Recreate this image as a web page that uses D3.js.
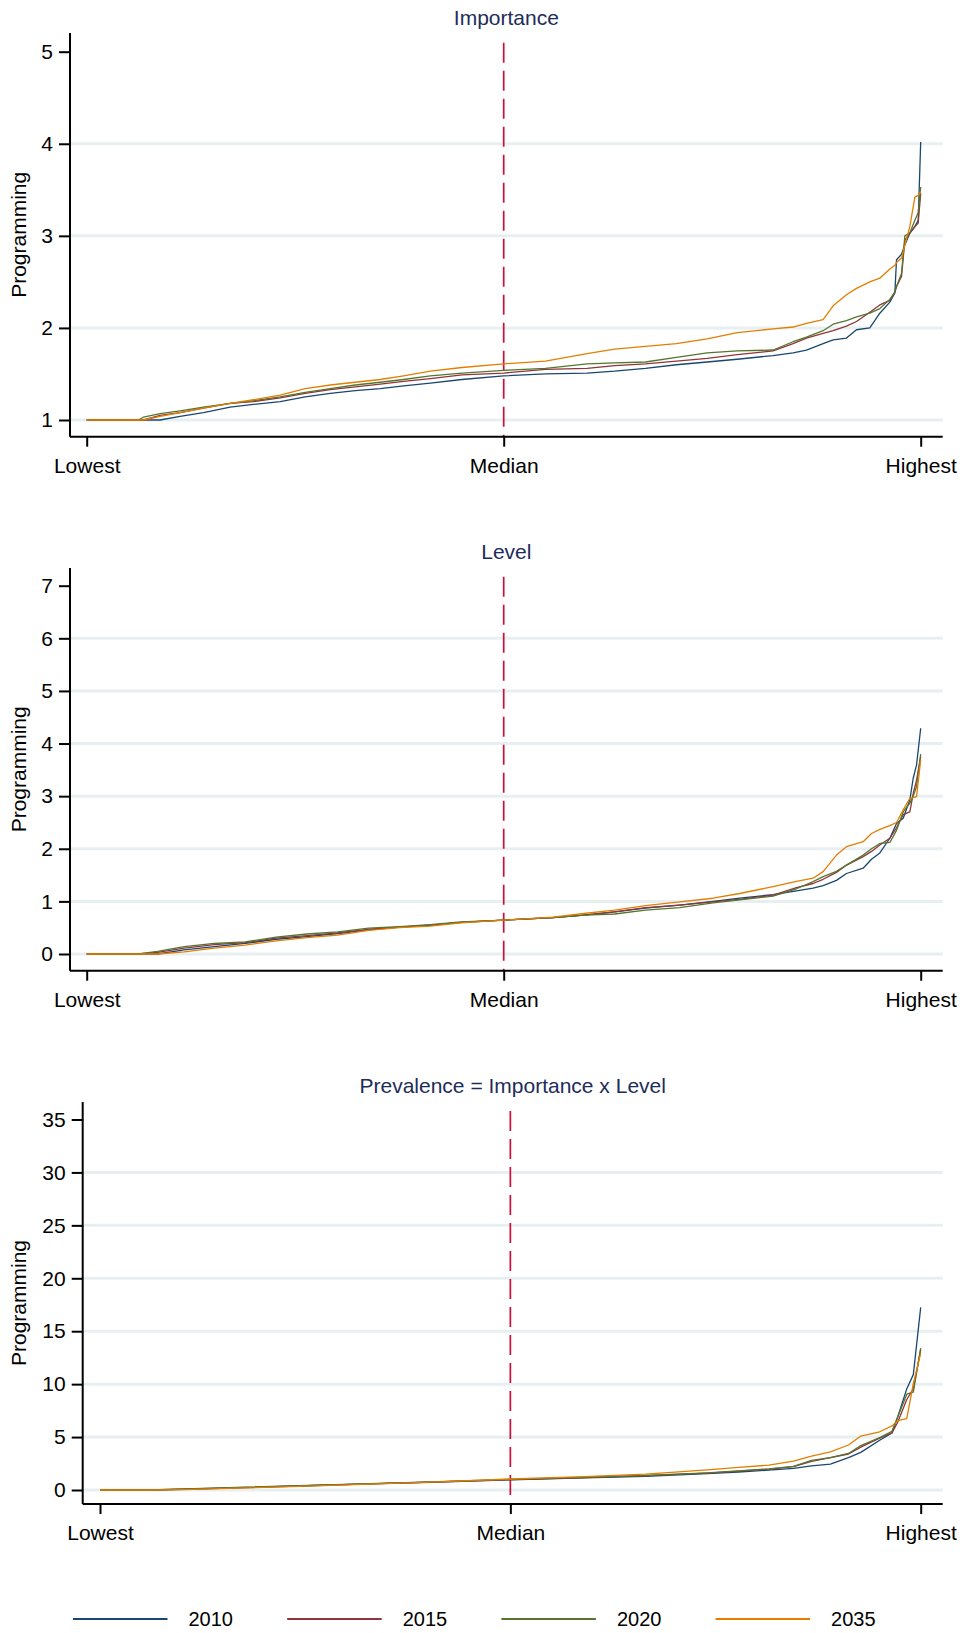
<!DOCTYPE html>
<html>
<head>
<meta charset="utf-8">
<script src="https://cdn.jsdelivr.net/npm/d3@7/dist/d3.min.js"></script>
<style>
  body { margin: 0; background: #fff; }
  svg { display: block; }
  text { font-family: "Liberation Sans", Arial, Helvetica, sans-serif; }
</style>
</head>
<body>
<script>
// ---- data -------------------------------------------------------------
const years = ["2010", "2015", "2020", "2035"];
const yearColors = ["#1a476f", "#90353b", "#55752f", "#e37e00"];
const xTickValues = [0, 0.5, 1];
const xTickLabels = ["Lowest", "Median", "Highest"];
const axisTitle = "Programming";

// Importance: rank position (0 = lowest, 1 = highest) and sorted scores
const importanceRank = [0, 0.062, 0.068, 0.088, 0.112, 0.14, 0.172, 0.2, 0.232, 0.262, 0.292, 0.322, 0.352, 0.38, 0.412, 0.45, 0.5, 0.55, 0.6, 0.633, 0.67, 0.707, 0.744, 0.78, 0.823, 0.847, 0.863, 0.883, 0.895, 0.911, 0.923, 0.939, 0.951, 0.963, 0.969, 0.971, 0.977, 0.981, 0.987, 0.993, 0.997, 1];
const importance2010 = [1, 1, 1, 1, 1.04, 1.08, 1.14, 1.17, 1.2, 1.25, 1.29, 1.32, 1.34, 1.37, 1.4, 1.44, 1.48, 1.5, 1.51, 1.53, 1.56, 1.6, 1.63, 1.66, 1.7, 1.73, 1.76, 1.83, 1.87, 1.89, 1.98, 2, 2.16, 2.28, 2.38, 2.74, 2.8, 2.9, 3.03, 3.1, 3.17, 4.02];
const importance2015 = [1, 1, 1, 1.05, 1.08, 1.13, 1.18, 1.2, 1.24, 1.29, 1.33, 1.36, 1.39, 1.42, 1.45, 1.49, 1.51, 1.55, 1.56, 1.59, 1.61, 1.64, 1.67, 1.71, 1.75, 1.83, 1.89, 1.94, 1.97, 2.02, 2.07, 2.17, 2.25, 2.3, 2.39, 2.45, 2.56, 2.95, 3.03, 3.1, 3.14, 3.46];
const importance2020 = [1, 1, 1.03, 1.07, 1.1, 1.14, 1.18, 1.21, 1.25, 1.3, 1.34, 1.38, 1.41, 1.44, 1.48, 1.51, 1.54, 1.56, 1.61, 1.62, 1.63, 1.68, 1.73, 1.75, 1.76, 1.85, 1.9, 1.97, 2.04, 2.08, 2.12, 2.16, 2.21, 2.31, 2.39, 2.45, 2.59, 3, 3.03, 3.17, 3.25, 3.53];
const importance2035 = [1, 1, 1, 1.04, 1.08, 1.13, 1.18, 1.22, 1.27, 1.34, 1.38, 1.41, 1.44, 1.48, 1.53, 1.57, 1.61, 1.64, 1.72, 1.77, 1.8, 1.83, 1.88, 1.95, 1.99, 2.01, 2.05, 2.09, 2.24, 2.36, 2.43, 2.5, 2.54, 2.64, 2.68, 2.71, 2.76, 2.9, 3.1, 3.42, 3.44, 3.48];

// Level
const levelRank = [0, 0.062, 0.085, 0.117, 0.153, 0.19, 0.227, 0.264, 0.301, 0.338, 0.375, 0.412, 0.449, 0.5, 0.559, 0.596, 0.633, 0.67, 0.711, 0.751, 0.783, 0.823, 0.851, 0.871, 0.883, 0.899, 0.911, 0.931, 0.941, 0.951, 0.963, 0.971, 0.979, 0.987, 0.991, 0.995, 1];
const level2010 = [0, 0, 0, 0.08, 0.14, 0.2, 0.28, 0.33, 0.39, 0.46, 0.51, 0.55, 0.6, 0.645, 0.69, 0.74, 0.8, 0.87, 0.93, 1, 1.06, 1.13, 1.2, 1.25, 1.3, 1.4, 1.53, 1.63, 1.8, 1.92, 2.2, 2.48, 2.58, 2.93, 3.34, 3.59, 4.29];
const level2015 = [0, 0, 0.03, 0.11, 0.18, 0.215, 0.3, 0.35, 0.4, 0.47, 0.51, 0.55, 0.6, 0.645, 0.69, 0.74, 0.8, 0.88, 0.93, 0.99, 1.04, 1.12, 1.26, 1.34, 1.42, 1.55, 1.69, 1.85, 1.95, 2.07, 2.2, 2.4, 2.65, 2.7, 3.05, 3.3, 3.75];
const level2020 = [0, 0, 0.05, 0.14, 0.2, 0.23, 0.32, 0.38, 0.42, 0.49, 0.52, 0.56, 0.61, 0.645, 0.69, 0.74, 0.76, 0.835, 0.88, 0.97, 1.03, 1.1, 1.24, 1.375, 1.47, 1.57, 1.69, 1.88, 2, 2.1, 2.12, 2.35, 2.7, 2.87, 3, 3.18, 3.8];
const level2035 = [0, 0, 0, 0.04, 0.11, 0.17, 0.25, 0.31, 0.36, 0.45, 0.5, 0.53, 0.59, 0.645, 0.7, 0.77, 0.835, 0.92, 0.99, 1.06, 1.15, 1.28, 1.38, 1.44, 1.565, 1.88, 2.04, 2.135, 2.29, 2.37, 2.44, 2.5, 2.74, 2.96, 2.97, 2.99, 3.69];

// Prevalence = Importance x Level
const prevalenceRank = [0, 0.06, 0.103, 0.178, 0.253, 0.328, 0.403, 0.5, 0.59, 0.665, 0.74, 0.778, 0.815, 0.845, 0.867, 0.89, 0.912, 0.927, 0.95, 0.965, 0.972, 0.983, 0.991, 1];
const prevalence2010 = [0, 0, 0.06, 0.22, 0.4, 0.57, 0.73, 0.96, 1.15, 1.3, 1.55, 1.7, 1.88, 2.05, 2.28, 2.45, 3.05, 3.55, 4.7, 5.4, 6.9, 9.55, 10.9, 17.25];
const prevalence2015 = [0, 0, 0.08, 0.25, 0.41, 0.58, 0.75, 0.98, 1.18, 1.35, 1.6, 1.78, 1.97, 2.2, 2.7, 3.05, 3.4, 4.05, 4.9, 5.4, 6.4, 8.55, 9.55, 13.25];
const prevalence2020 = [0, 0, 0.1, 0.27, 0.43, 0.6, 0.77, 1, 1.2, 1.37, 1.62, 1.8, 2, 2.23, 2.8, 3.05, 3.45, 4.2, 4.95, 5.55, 6.9, 9.05, 9.25, 13.4];
const prevalence2035 = [0, 0, 0.04, 0.2, 0.37, 0.56, 0.74, 1.04, 1.27, 1.5, 1.9, 2.13, 2.35, 2.73, 3.2, 3.6, 4.25, 5.1, 5.5, 6.05, 6.55, 6.75, 10.05, 12.9];

const importanceTicks = [1, 2, 3, 4, 5];
const levelTicks = [0, 1, 2, 3, 4, 5, 6, 7];
const prevalenceTicks = [0, 5, 10, 15, 20, 25, 30, 35];

// ---- layout -------------------------------------------------------------
const W = 964, H = 1633;
const panels = [
  { title: "Importance", ticks: importanceTicks, rank: importanceRank,
    series: [importance2010, importance2015, importance2020, importance2035],
    axisX: 70, xLeft: 86.7, xRight: 920.7, axisRight: 942.7,
    axisTop: 33, axisBottom: 436.7, lowPx: 420, highPx: 51.7, titleY: 25, medianTop: 42.7 },
  { title: "Level", ticks: levelTicks, rank: levelRank,
    series: [level2010, level2015, level2020, level2035],
    axisX: 70, xLeft: 86.7, xRight: 920.7, axisRight: 942.7,
    axisTop: 568, axisBottom: 970.7, lowPx: 954, highPx: 585.7, titleY: 559, medianTop: 576.7 },
  { title: "Prevalence = Importance x Level", ticks: prevalenceTicks, rank: prevalenceRank,
    series: [prevalence2010, prevalence2015, prevalence2020, prevalence2035],
    axisX: 82.7, xLeft: 100, xRight: 920.7, axisRight: 942.7,
    axisTop: 1102, axisBottom: 1504, lowPx: 1490, highPx: 1119.5, titleY: 1093, medianTop: 1111 }
];

const svg = d3.select("body").append("svg")
  .attr("width", W).attr("height", H)
  .attr("viewBox", `0 0 ${W} ${H}`);

svg.append("rect").attr("width", W).attr("height", H).attr("fill", "#fff");

panels.forEach(p => {
  const g = svg.append("g");
  const x = d3.scaleLinear().domain([0, 1]).range([p.xLeft, p.xRight]);
  const y = d3.scaleLinear()
    .domain([p.ticks[0], p.ticks[p.ticks.length - 1]])
    .range([p.lowPx, p.highPx]);

  // horizontal gridlines (none on the top tick)
  g.selectAll("line.grid").data(p.ticks.slice(0, -1)).join("line")
    .attr("class", "grid")
    .attr("x1", p.axisX).attr("x2", p.axisRight)
    .attr("y1", d => y(d)).attr("y2", d => y(d))
    .attr("stroke", "#e8eff1").attr("stroke-width", 3);

  // median reference line
  g.append("line")
    .attr("x1", x(0.5)).attr("x2", x(0.5))
    .attr("y1", p.medianTop).attr("y2", p.axisBottom)
    .attr("stroke", "#c8103a").attr("stroke-width", 1.7)
    .attr("stroke-dasharray", "20,8");

  // series lines
  const line = d3.line()
    .x((d, i) => x(p.rank[i]))
    .y(d => y(d));
  p.series.forEach((s, k) => {
    g.append("path")
      .datum(s)
      .attr("d", line)
      .attr("fill", "none")
      .attr("stroke", yearColors[k])
      .attr("stroke-width", 1.3)
      .attr("stroke-linejoin", "round");
  });

  // y axis
  const yAxis = d3.axisLeft(y).tickValues(p.ticks).tickSize(11).tickPadding(6)
    .tickFormat(d3.format("d"));
  const ya = g.append("g").attr("transform", `translate(${p.axisX},0)`).call(yAxis);
  ya.select(".domain").attr("d", `M0,${p.axisTop}V${p.axisBottom}`)
    .attr("stroke", "#000").attr("stroke-width", 2);
  ya.selectAll(".tick line").attr("stroke", "#000").attr("stroke-width", 2);
  ya.selectAll(".tick text").attr("font-size", 21).attr("fill", "#000")
    .attr("font-family", "Liberation Sans, Arial, sans-serif");

  // x axis
  const xAxis = d3.axisBottom(x).tickValues(xTickValues).tickSize(10).tickPadding(11)
    .tickFormat((d, i) => xTickLabels[i]);
  const xa = g.append("g").attr("transform", `translate(0,${p.axisBottom})`).call(xAxis);
  xa.select(".domain").attr("d", `M${p.axisX},0H${p.axisRight}`)
    .attr("stroke", "#000").attr("stroke-width", 2);
  xa.selectAll(".tick line").attr("stroke", "#000").attr("stroke-width", 2);
  xa.selectAll(".tick text").attr("font-size", 21).attr("fill", "#000")
    .attr("font-family", "Liberation Sans, Arial, sans-serif");

  // panel title
  g.append("text")
    .attr("x", (p.axisX + p.axisRight) / 2).attr("y", p.titleY)
    .attr("text-anchor", "middle").attr("font-size", 21).attr("fill", "#1e2c5a")
    .text(p.title);

  // y axis title
  g.append("text")
    .attr("transform", `translate(26,${(p.axisTop + p.axisBottom) / 2}) rotate(-90)`)
    .attr("text-anchor", "middle").attr("font-size", 21).attr("fill", "#000")
    .text(axisTitle);
});

// legend
const legend = svg.append("g").attr("transform", "translate(73,1619)");
const item = legend.selectAll("g").data(years).join("g")
  .attr("transform", (d, i) => `translate(${i * 214.2},0)`);
item.append("line").attr("x1", 0).attr("x2", 94.5).attr("y1", 0).attr("y2", 0)
  .attr("stroke", (d, i) => yearColors[i]).attr("stroke-width", 2.2);
item.append("text").attr("x", 115.5).attr("y", 7).attr("font-size", 20)
  .attr("fill", "#000").text(d => d);
</script>
</body>
</html>
